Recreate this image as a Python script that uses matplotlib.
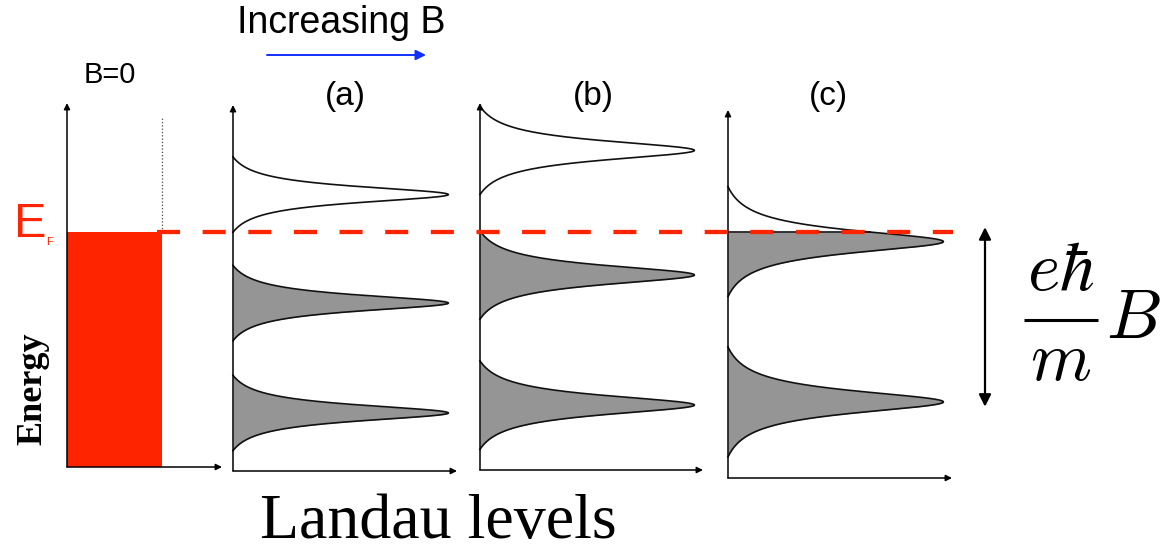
import matplotlib.pyplot as plt
import numpy as np
from matplotlib import transforms

plt.rcParams["mathtext.fontset"] = "cm"

# energies in arbitrary units, Fermi level = 1
E_F = 1.0
# Landau level centres for (a), (b), (c)
levels_a = [0.246, 0.704, 1.156]
levels_b = [0.279, 0.821, 1.340]
levels_c = [0.292, 0.960]
# broadening (lorentzian half width) and half range where the peak meets the axis
gamma = {"a": 0.042, "b": 0.050, "c": 0.058}
half_range = {"a": 0.157, "b": 0.184, "c": 0.229}
peak_height = 1.0
dos_B0 = 1.0  # flat 2D density of states at B=0
panel_labels = ["(a)", "(b)", "(c)"]

RED = "#ff2400"
GRAY = "#959595"

W, H = 1173, 551
fig = plt.figure(figsize=(W / 100, H / 100), dpi=100)

# energy axis: same scale for every panel
ZERO_Y = 472
PX_PER_E = 240


def panel(x0, x1, ytop, ybot, xmax):
    ax = fig.add_axes([x0 / W, 1 - ybot / H, (x1 - x0) / W, (ybot - ytop) / H])
    ax.set_xlim(0, xmax)
    ax.set_ylim((ZERO_Y - ybot) / PX_PER_E, (ZERO_Y - ytop) / PX_PER_E)
    ax.axis("off")
    ap = dict(arrowstyle="-|>", mutation_scale=9, lw=1.1, color="black",
              shrinkA=0, shrinkB=0)
    ax.annotate("", xy=(0, 1), xytext=(0, 0), xycoords="axes fraction", arrowprops=ap)
    ax.annotate("", xy=(1, 0), xytext=(0, 0), xycoords="axes fraction", arrowprops=ap)
    return ax


def lorentz(ax, c, g, h, filled):
    E = np.linspace(c - h, c + h, 600)
    L = 1 / (1 + ((E - c) / g) ** 2)
    Lc = 1 / (1 + (h / g) ** 2)
    dos = peak_height * (L - Lc) / (1 - Lc)
    if filled:
        below = E <= E_F
        ax.fill_betweenx(E, 0, dos, where=below, color=GRAY, lw=0)
        if not below.all() and below.any():
            ax.plot([0, np.interp(E_F, E, dos)], [E_F, E_F], color="#111", lw=1.2)
    ax.plot(dos, E, color="#111", lw=1.2, clip_on=False)


# B = 0 panel
ax0 = panel(67, 222, 103, 467, 1.63)
e_lo = ax0.get_ylim()[0]
ax0.fill_betweenx([e_lo, E_F], 0, dos_B0, color=RED, lw=0)
ax0.plot([dos_B0, dos_B0], [E_F, 1.48], ls=":", color="#444", lw=0.9)

panels = [
    ("a", panel(233, 457, 105, 471, 1.04), levels_a),
    ("b", panel(480, 703, 103, 470, 1.04), levels_b),
    ("c", panel(728, 952, 110, 478, 1.04), levels_c),
]
for key, ax, lev in panels:
    for c in lev:
        lorentz(ax, c, gamma[key], half_range[key], filled=(c - E_F) < gamma[key])

# overlay for labels, x in pixels
ov = fig.add_axes([0, 0, 1, 1], zorder=5)
ov.set_xlim(0, W)
ov.set_ylim(H, 0)
ov.axis("off")
ov.patch.set_visible(False)
# x in overlay pixels, y in energy units
mix = transforms.blended_transform_factory(ov.transData, panels[0][1].transData)

ov.plot([157, 953], [E_F, E_F], transform=mix, color=RED, lw=3.1,
        dashes=(5.35, 5.25), solid_capstyle="butt", dash_capstyle="butt")

ov.annotate("", xy=(985, E_F + 0.02), xytext=(985, levels_c[0] - 0.02),
            xycoords=mix, textcoords=mix,
            arrowprops=dict(arrowstyle="<|-|>", mutation_scale=18, lw=1.6,
                            color="black", shrinkA=0, shrinkB=0))

# e hbar / m  B, built by hand for display-style spacing
ov.text(1061, 290, r"$e\hbar$", fontsize=50, ha="center", va="baseline")
ov.plot([1024, 1098], [320, 320], color="black", lw=2.2, solid_capstyle="butt")
ov.text(1061, 380, r"$m$", fontsize=50, ha="center", va="baseline")
ov.text(1106, 338, r"$B$", fontsize=50, ha="left", va="baseline")

ov.text(341, 33, "Increasing B", fontsize=27, family="Liberation Sans",
        ha="center", va="baseline")
ov.annotate("", xy=(426, 55), xytext=(267, 55),
            arrowprops=dict(arrowstyle="-|>", mutation_scale=15, lw=1.4,
                            color="#1030ff", shrinkA=0, shrinkB=0))
ov.text(110, 83, "B=0", fontsize=21, family="Liberation Sans",
        ha="center", va="baseline")
for lab, xc in zip(panel_labels, [345, 593, 828]):
    ov.text(xc, 96, lab, fontsize=24, family="Liberation Sans",
            ha="center", va="center")

ov.text(14, 237, "E", fontsize=35, color=RED, family="Liberation Sans",
        ha="left", va="baseline")
ov.text(46, 245, "F", fontsize=8, color=RED, family="Liberation Sans",
        ha="left", va="baseline")
ov.text(33, 389, "Energy", fontsize=26, family="Liberation Serif",
        weight="bold", rotation=90, ha="center", va="center")
ov.text(438, 538, "Landau levels", fontsize=46, family="Liberation Serif",
        ha="center", va="baseline")

fig.savefig("out.png", dpi=100)
